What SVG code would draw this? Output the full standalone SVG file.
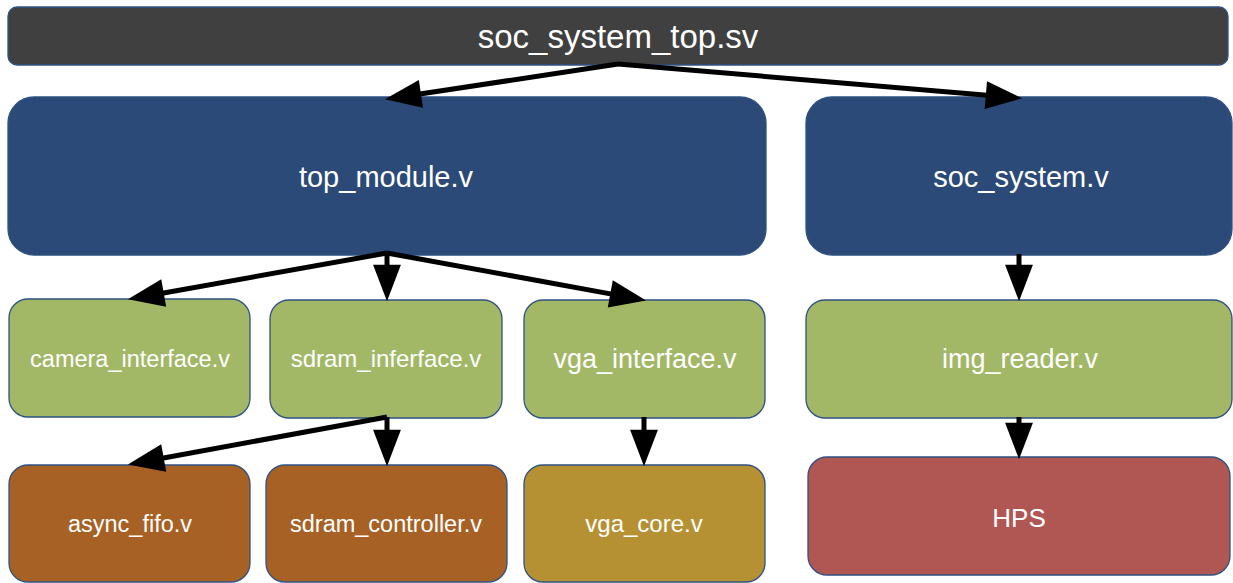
<svg xmlns="http://www.w3.org/2000/svg" width="1233" height="583" viewBox="0 0 1233 583">
<style>
.box{stroke:#2F5282;stroke-width:1.3}
.dark{fill:#404040}
.blue{fill:#2B4A78}
.green{fill:#A2B866}
.brown{fill:#A86125}
.olive{fill:#B69133}
.red{fill:#B05753}
text{font-family:"Liberation Sans",Arial,sans-serif;fill:#FFFFFF;text-anchor:middle}
.conn{stroke:#000;stroke-width:5;fill:none;marker-end:url(#ah)}
</style>
<defs>
<marker id="ah" markerUnits="userSpaceOnUse" markerWidth="40" markerHeight="30" viewBox="0 -14 36 28" refX="4" refY="0" orient="auto">
<path d="M0,-13 L34,0 L0,13 z" fill="#000"/>
</marker>
</defs>
<g id="soc_system_top">
<rect class="box dark" x="8" y="7" width="1220" height="58" rx="9"/>
<text x="618" y="48" font-size="33">soc_system_top.sv</text>
</g>
<g id="top_module">
<rect class="box blue" x="8" y="97" width="758" height="158" rx="26"/>
<text x="386" y="187" font-size="29">top_module.v</text>
</g>
<g id="soc_system">
<rect class="box blue" x="806" y="97" width="426" height="158" rx="26"/>
<text x="1021" y="187" font-size="29">soc_system.v</text>
</g>
<g id="camera_interface">
<rect class="box green" x="9" y="299" width="241" height="118" rx="19"/>
<text x="130" y="367" font-size="23.5">camera_interface.v</text>
</g>
<g id="sdram_inferface">
<rect class="box green" x="270" y="300" width="232" height="118" rx="19"/>
<text x="386" y="367" font-size="24">sdram_inferface.v</text>
</g>
<g id="vga_interface">
<rect class="box green" x="524" y="300" width="241" height="118" rx="19"/>
<text x="645" y="368" font-size="27">vga_interface.v</text>
</g>
<g id="img_reader">
<rect class="box green" x="806" y="300" width="426" height="118" rx="19"/>
<text x="1020" y="368" font-size="27">img_reader.v</text>
</g>
<g id="async_fifo">
<rect class="box brown" x="9" y="465" width="241" height="117" rx="19"/>
<text x="130" y="532" font-size="23.5">async_fifo.v</text>
</g>
<g id="sdram_controller">
<rect class="box brown" x="266" y="465" width="241" height="117" rx="19"/>
<text x="386" y="532" font-size="23.5">sdram_controller.v</text>
</g>
<g id="vga_core">
<rect class="box olive" x="524" y="465" width="241" height="117" rx="19"/>
<text x="644" y="532" font-size="24">vga_core.v</text>
</g>
<g id="HPS">
<rect class="box red" x="808" y="457" width="422" height="118" rx="19"/>
<text x="1019" y="527" font-size="26">HPS</text>
</g>
<g id="connectors">
<path class="conn" d="M618,64 L416.7,94.5"/>
<path class="conn" d="M618,64 L990.1,95.5"/>
<path class="conn" d="M387,253 L159.5,293.7"/>
<path class="conn" d="M387,253 L387,269"/>
<path class="conn" d="M387,253 L614.5,294.6"/>
<path class="conn" d="M1019,254 L1019,269"/>
<path class="conn" d="M387,417 L159.5,458.7"/>
<path class="conn" d="M387,417 L387,434"/>
<path class="conn" d="M644,417 L644,434"/>
<path class="conn" d="M1019,417 L1019,427"/>
</g>
</svg>
